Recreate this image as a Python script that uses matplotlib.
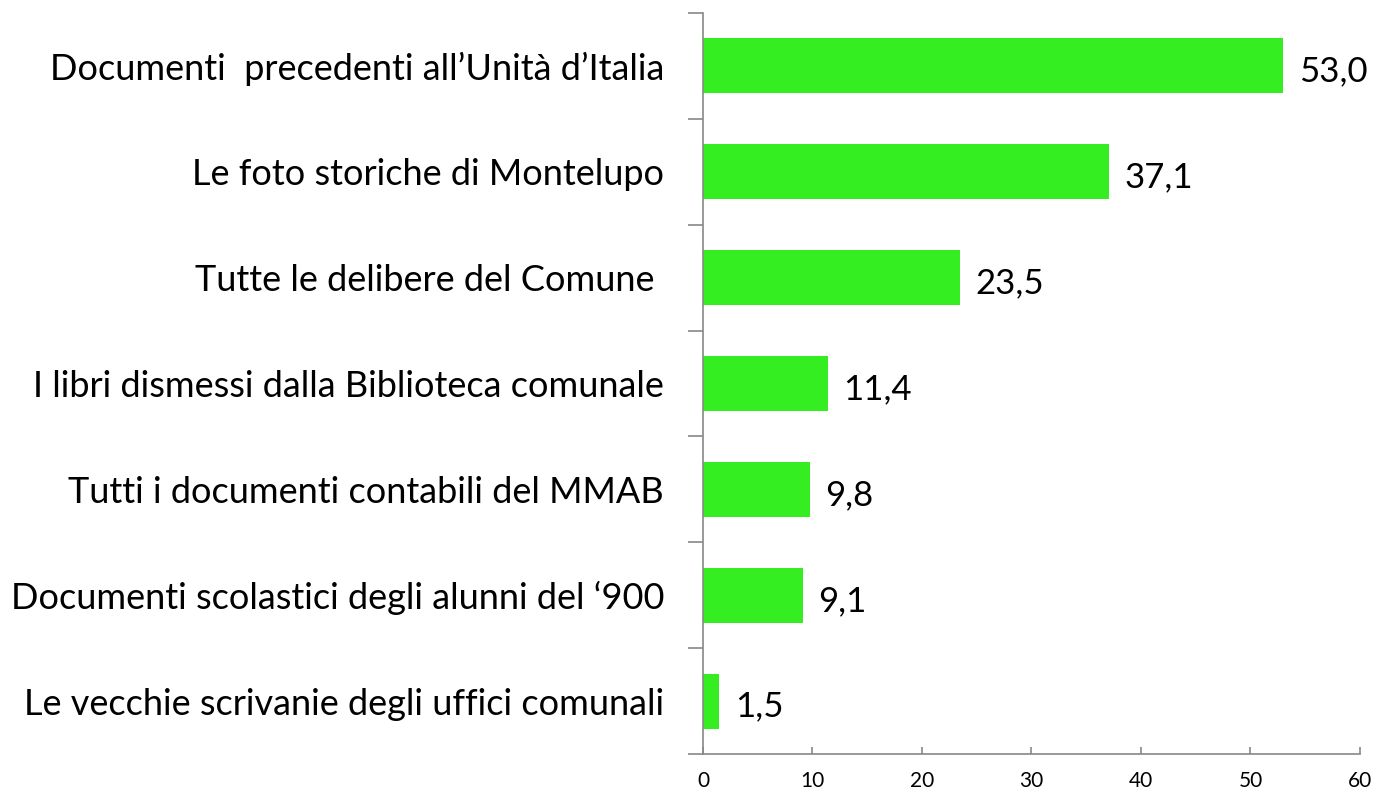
import numpy as np
import matplotlib.pyplot as plt

plt.rcParams['font.family'] = ['Lato', 'DejaVu Sans']

categorie = [
    "Documenti  precedenti all\u2019Unit\u00e0 d\u2019Italia",
    "Le foto storiche di Montelupo",
    "Tutte le delibere del Comune ",
    "I libri dismessi dalla Biblioteca comunale",
    "Tutti i documenti contabili del MMAB",
    "Documenti scolastici degli alunni del \u2018900",
    "Le vecchie scrivanie degli uffici comunali",
]
valori = [53.0, 37.1, 23.5, 11.4, 9.8, 9.1, 1.5]
xticks = [0, 10, 20, 30, 40, 50, 60]

fig = plt.figure(figsize=(13.74, 7.92), dpi=100)
ax = fig.add_axes([0.5116, 0.048, 0.4782, 0.9356])

y = np.arange(len(categorie))[::-1]
ax.barh(y, valori, height=0.52, color="#35EE22")

for yi, v in zip(y, valori):
    ax.annotate(f"{v:.1f}".replace(".", ","), (v, yi), xytext=(11, -4),
                textcoords="offset points", va="center", ha="left",
                fontsize=25, color="black")

ax.set_xlim(0, 60)
ax.set_ylim(-0.5, len(categorie) - 0.5)
ax.set_xticks(xticks)
ax.set_xticklabels([str(t) for t in xticks], fontsize=15)
ax.set_yticks(y)
ax.set_yticklabels(categorie, fontsize=26)
ax.set_yticks(np.arange(-0.5, len(categorie)), minor=True)

ax.tick_params(axis="y", which="major", length=0, pad=28)
ax.tick_params(axis="y", which="minor", length=11, width=1.2, color="#888888", direction="out")
ax.tick_params(axis="x", which="major", length=5, width=1.2, color="#888888", direction="in", pad=12)

for s in ["top", "right"]:
    ax.spines[s].set_visible(False)
for s in ["left", "bottom"]:
    ax.spines[s].set_color("#888888")
    ax.spines[s].set_linewidth(1.2)

fig.savefig("out.png", dpi=100)
